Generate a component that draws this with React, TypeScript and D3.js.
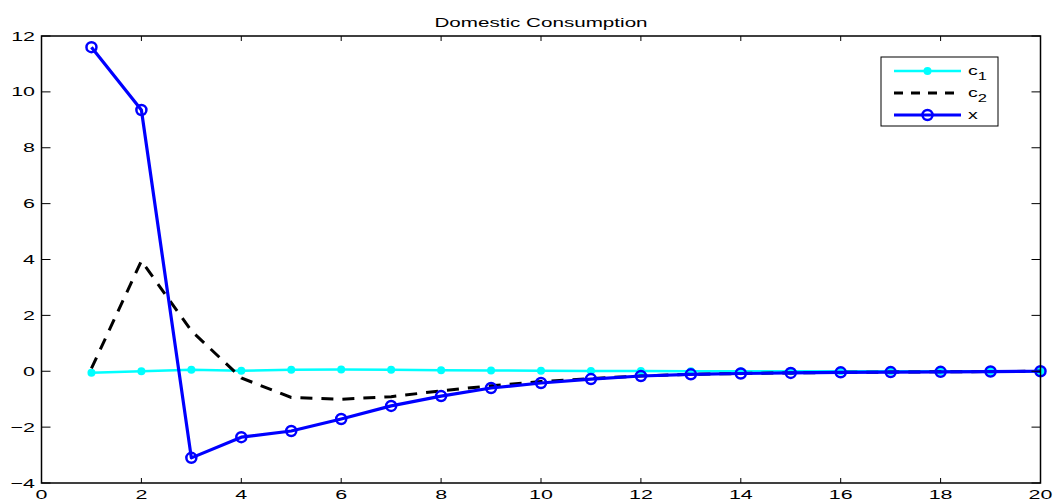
import React, { useEffect, useRef } from 'react';
import * as d3 from 'd3';

const periods = d3.range(1, 21);
const c1Values = [-0.05, 0.0, 0.05, 0.02, 0.05, 0.06, 0.05, 0.04, 0.03, 0.02, 0.01, 0.01, 0.0, 0.0, 0.0, 0.0, 0.0, 0.0, 0.0, 0.0];
const c2Values = [0.1, 3.95, 1.45, -0.24, -0.94, -1.0, -0.91, -0.7, -0.52, -0.37, -0.26, -0.17, -0.11, -0.08, -0.06, -0.04, -0.03, -0.02, -0.01, 0.0];
const xValues = [11.6, 9.35, -3.1, -2.36, -2.14, -1.71, -1.24, -0.89, -0.6, -0.42, -0.28, -0.17, -0.11, -0.08, -0.06, -0.04, -0.03, -0.02, -0.01, 0.0];
const xTicks = d3.range(0, 21, 2);
const yTicks = d3.range(-4, 13, 2);
const legendLabels = ['c', 'c', 'x'];
const legendSubs = ['1', '2', ''];

const W = 1055, H = 502;
const margin = { top: 36, right: 14.5, bottom: 19, left: 41.5 };
const SX = 1.65; // text in the reference is stretched sideways

const App = () => {
  const svgRef = useRef<SVGSVGElement>(null);

  useEffect(() => {
    const svg = d3.select(svgRef.current).attr('width', W).attr('height', H);
    svg.selectAll('*').remove();
    const font = 'Liberation Sans, Arial, Helvetica, sans-serif';

    const x = d3.scaleLinear().domain([0, 20]).range([margin.left, W - margin.right]);
    const y = d3.scaleLinear().domain([-4, 12]).range([H - margin.bottom, margin.top]);

    svg.append('rect').attr('width', W).attr('height', H).attr('fill', '#fff');

    const line = (vals: number[]) =>
      d3.line<number>().x((_, i) => x(periods[i])).y((d) => y(d))(vals);

    // c1
    svg.append('path').attr('d', line(c1Values)).attr('fill', 'none')
      .attr('stroke', '#00ffff').attr('stroke-width', 2.5);
    svg.append('g').selectAll('circle').data(c1Values).join('circle')
      .attr('cx', (_, i) => x(periods[i])).attr('cy', (d) => y(d)).attr('r', 4)
      .attr('fill', '#00ffff');

    // c2
    svg.append('path').attr('d', line(c2Values)).attr('fill', 'none')
      .attr('stroke', '#000').attr('stroke-width', 3).attr('stroke-dasharray', '12,9');

    // x
    svg.append('path').attr('d', line(xValues)).attr('fill', 'none')
      .attr('stroke', '#0000ff').attr('stroke-width', 3.2).attr('stroke-linejoin', 'round');
    svg.append('g').selectAll('circle').data(xValues).join('circle')
      .attr('cx', (_, i) => x(periods[i])).attr('cy', (d) => y(d)).attr('r', 5)
      .attr('fill', 'none').attr('stroke', '#0000ff').attr('stroke-width', 2.5);

    // frame + ticks
    const [x0, x1] = x.range();
    const [y0, y1] = y.range();
    svg.append('rect').attr('x', x0).attr('y', y1).attr('width', x1 - x0).attr('height', y0 - y1)
      .attr('fill', 'none').attr('stroke', '#000').attr('stroke-width', 1.5);

    const g = svg.append('g').attr('stroke', '#000').attr('stroke-width', 1);
    xTicks.forEach((t) => {
      g.append('line').attr('x1', x(t)).attr('x2', x(t)).attr('y1', y0).attr('y2', y0 - 5);
      g.append('line').attr('x1', x(t)).attr('x2', x(t)).attr('y1', y1).attr('y2', y1 + 5);
    });
    yTicks.forEach((t) => {
      g.append('line').attr('x1', x0).attr('x2', x0 + 9).attr('y1', y(t)).attr('y2', y(t));
      g.append('line').attr('x1', x1).attr('x2', x1 - 9).attr('y1', y(t)).attr('y2', y(t));
    });

    svg.append('g').selectAll('text').data(xTicks).join('text')
      .attr('transform', (d) => `translate(${x(d)},${y0 + 16}) scale(${SX},1)`)
      .attr('text-anchor', 'middle')
      .attr('font-family', font).attr('font-size', 13).text((d) => d);
    svg.append('g').selectAll('text').data(yTicks).join('text')
      .attr('transform', (d) => `translate(${x0 - 6.5},${y(d) + 4.5}) scale(${SX},1)`)
      .attr('text-anchor', 'end')
      .attr('font-family', font).attr('font-size', 13).text((d) => (d < 0 ? '\u2212' + Math.abs(d) : d));

    svg.append('text').attr('transform', `translate(${(x0 + x1) / 2},${26.5}) scale(${SX},1)`)
      .attr('text-anchor', 'middle')
      .attr('font-family', font).attr('font-size', 12.5).text('Domestic Consumption');

    // legend
    const lg = svg.append('g').attr('transform', 'translate(881,57)');
    lg.append('rect').attr('width', 117).attr('height', 69).attr('fill', '#fff')
      .attr('stroke', '#000').attr('stroke-width', 1);
    const rows = [14, 36, 58];
    const styles = [
      { stroke: '#00ffff', dash: null, w: 2.5 },
      { stroke: '#000', dash: '9,8', w: 3 },
      { stroke: '#0000ff', dash: null, w: 3 },
    ];
    rows.forEach((ry, i) => {
      lg.append('line').attr('x1', 13).attr('x2', 80).attr('y1', ry).attr('y2', ry)
        .attr('stroke', styles[i].stroke).attr('stroke-width', styles[i].w)
        .attr('stroke-dasharray', styles[i].dash);
      const tx = lg.append('text').attr('transform', `translate(87,${ry + 3.5}) scale(1.5,1)`)
        .attr('font-family', font).attr('font-size', 13).text(legendLabels[i]);
      if (legendSubs[i]) tx.append('tspan').attr('dy', 5).attr('font-size', 11).text(legendSubs[i]);
    });
    lg.append('circle').attr('cx', 46.5).attr('cy', rows[0]).attr('r', 4).attr('fill', '#00ffff');
    lg.append('circle').attr('cx', 46.5).attr('cy', rows[2]).attr('r', 5).attr('fill', 'none')
      .attr('stroke', '#0000ff').attr('stroke-width', 2.5);
  }, []);

  return (
    <div style={{ position: 'absolute', left: 0, top: 0 }}>
      <svg ref={svgRef}></svg>
    </div>
  );
};

export default App;
